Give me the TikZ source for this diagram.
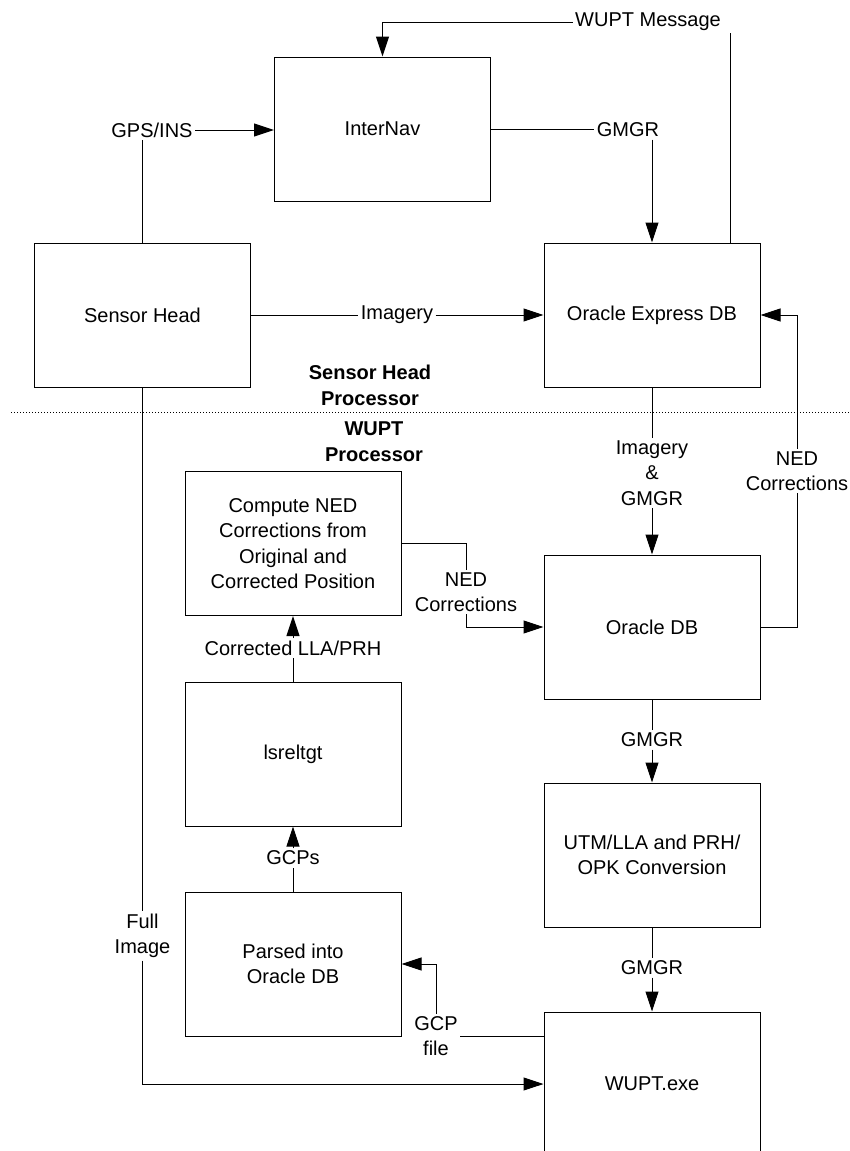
\documentclass[tikz,border=0pt]{standalone}
\usepackage{fontspec}
\setmainfont{Liberation Sans}
\usetikzlibrary{arrows.meta}

\begin{document}
\begin{tikzpicture}
[-,line width=1pt,x=1pt,y=-1pt,%
  >={Triangle[length=20pt,width=13pt]},%
  every node/.style={font=\fontsize{20}{25.5}\selectfont,align=center,inner sep=2pt},%
  blk/.style={draw,minimum width=216pt,minimum height=144pt},%
  hdr/.style={font=\fontsize{20}{26}\selectfont\bfseries}]
\useasboundingbox (0,0) rectangle (850,1151);
% boxes
\node[blk] (internav) at (382.5,129) {InterNav};
\node[blk] (sensor) at (142.5,315) {Sensor Head};
\node[blk] (oexp) at (652,315) {Oracle Express DB};
\node[blk] (compute) at (293,543.5) {Compute NED\\Corrections from\\Original and\\Corrected Position};
\node[blk] (oradb) at (652,627) {Oracle DB};
\node[blk] (isreltgt) at (293,754) {lsreltgt};
\node[blk] (utm) at (652,855) {UTM/LLA and PRH/\\OPK Conversion};
\node[blk] (parsed) at (293,964) {Parsed into\\Oracle DB};
\node[blk] (wupt) at (652,1084) {WUPT.exe};
% labels
\node (wmsg) at (648,22) {WUPT Message};
\node (gpsl) at (152,130) {GPS/INS};
\node (gmgra) at (628,130) {GMGR};
\node (imgl) at (397,315) {Imagery};
\node[hdr] (shp) at (370,385) {Sensor Head\\Processor};
\node[hdr] (wpp) at (374,442) {WUPT\\Processor};
\node (imgg) at (652,473) {Imagery\\\&\\GMGR};
\node (nedr) at (797,471) {NED\\Corrections};
\node (nedm) at (466,592) {NED\\Corrections};
\node (cllal) at (293,648) {Corrected LLA/PRH};
\node (gmgrb) at (652,740) {GMGR};
\node (gcps) at (293,858) {GCPs};
\node (fulli) at (142.5,936) {Full\\Image};
\node (gmgrc) at (652,968) {GMGR};
\node (gcpf) at (436,1036) {GCP\\file};
% processor split
\coordinate (splitl) at (11,412);
\coordinate (splitr) at (850,412);
\draw[line width=0.8pt,dash pattern=on 1pt off 2pt] (splitl) -- (splitr);
% connectors
\coordinate (wtap) at (730,243);
\draw (wtap) -- (wtap |- wmsg.south);
\draw[->] (wmsg.west) -| (internav.north);
\draw (sensor.north) -- (sensor.north |- gpsl.south);
\draw[->] (gpsl.east) -- (gpsl.east -| internav.west);
\draw (internav.east) -- (internav.east -| gmgra.west);
\draw[->] (gmgra.south -| oexp.north) -- (oexp.north);
\draw (sensor.east) -- (imgl.west);
\draw[->] (imgl.east) -- (oexp.west);
\draw (oexp.south) -- (imgg.north);
\draw[->] (imgg.south) -- (oradb.north);
\draw[->] (nedr.north) |- (oexp.east);
\draw (nedr.south) |- (oradb.east);
\draw (compute.east) -| (nedm.north);
\draw[->] (nedm.south) |- (oradb.west);
\draw[->] (cllal.north) -- (compute.south);
\draw (isreltgt.north) -- (cllal.south);
\draw (oradb.south) -- (gmgrb.north);
\draw[->] (gmgrb.south) -- (utm.north);
\draw[->] (gcps.north) -- (isreltgt.south);
\draw (parsed.north) -- (gcps.south);
\draw (utm.south) -- (gmgrc.north);
\draw[->] (gmgrc.south) -- (wupt.north);
\draw (sensor.south) -- (fulli.north);
\draw[->] (fulli.south) |- (wupt.west);
\draw (gcpf.east -| wupt.west) -- (gcpf.east);
\draw[->] (gcpf.north) |- (parsed.east);
\end{tikzpicture}
\end{document}
